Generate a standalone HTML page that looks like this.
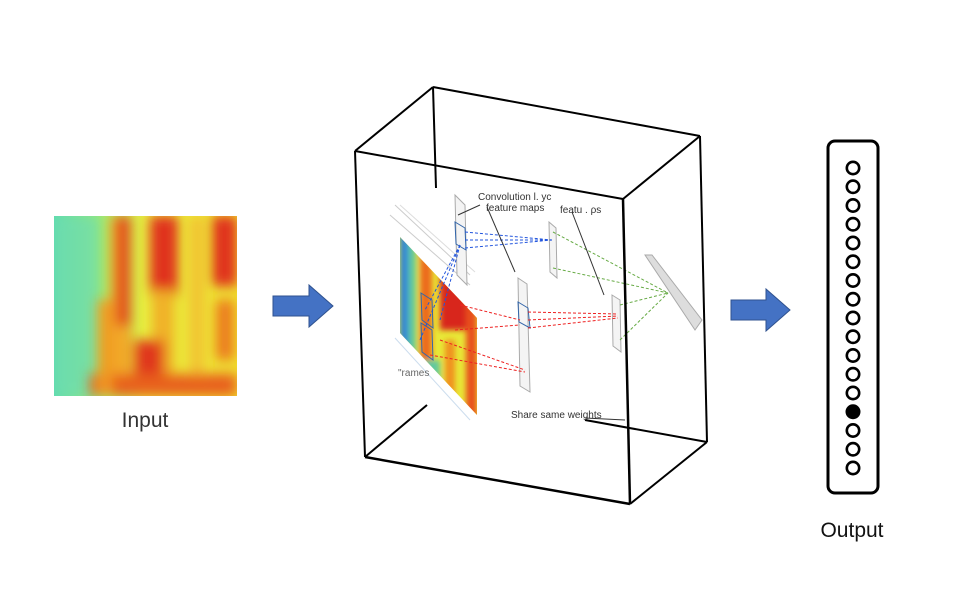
<!DOCTYPE html>
<html><head><meta charset="utf-8"><style>
html,body{margin:0;padding:0;background:#fff;width:975px;height:593px;overflow:hidden}
svg{display:block}
text{font-family:"Liberation Sans",sans-serif}
</style></head><body>
<svg width="975" height="593" viewBox="0 0 975 593">
<defs>
<linearGradient id="bg" x1="0" y1="0" x2="1" y2="0">
<stop offset="0" stop-color="#5fdcb0"/><stop offset="0.3" stop-color="#a8ec6a"/><stop offset="0.5" stop-color="#e8f040"/><stop offset="1" stop-color="#f0e030"/>
</linearGradient>
<filter id="bl" x="-30%" y="-30%" width="160%" height="160%"><feGaussianBlur stdDeviation="6"/></filter>
<filter id="bl2" x="-30%" y="-30%" width="160%" height="160%"><feGaussianBlur stdDeviation="3"/></filter>
<clipPath id="cp"><rect x="54" y="216" width="183" height="180"/></clipPath>
<clipPath id="cp2"><polygon points="400,237 477,318 477,415 400,333"/></clipPath>
</defs>
<g clip-path="url(#cp)">
<rect x="54" y="216" width="183" height="180" fill="url(#bg)"/>
<rect x="54" y="216" width="45" height="180" fill="#6edcb0" opacity="0.7" filter="url(#bl)"/>
<g filter="url(#bl)">
<rect x="110" y="216" width="22" height="180" fill="#f2a828"/>
<rect x="116" y="216" width="14" height="110" fill="#e2401a"/>
<rect x="150" y="216" width="28" height="80" fill="#e0301a"/>
<rect x="152" y="290" width="22" height="106" fill="#f0b028"/>
<rect x="190" y="216" width="14" height="180" fill="#f2c030"/>
<rect x="212" y="216" width="25" height="70" fill="#e0301a"/>
<rect x="216" y="300" width="18" height="60" fill="#ec7a1a"/>
<rect x="134" y="340" width="30" height="35" fill="#e0381a"/>
<rect x="90" y="374" width="147" height="22" fill="#e8601a"/>
<rect x="98" y="300" width="14" height="96" fill="#f09a20"/>
</g>
</g>
<text x="145" y="427" font-size="21" fill="#333" text-anchor="middle">Input</text>
<g>
<polygon points="273,296 309,296 309,285 333,306 309,327 309,316 273,316" fill="#4472c4" stroke="#2f528f" stroke-width="1"/>
</g>
<g>
<polygon points="731,300 766,300 766,289 790,310 766,331 766,320 731,320" fill="#4472c4" stroke="#2f528f" stroke-width="1"/>
</g>
<g stroke="#000" fill="none">
<line x1="355" y1="151" x2="433" y2="87" stroke-width="2"/>
<line x1="433" y1="87" x2="700" y2="136" stroke-width="2"/>
<line x1="433" y1="87" x2="436" y2="188" stroke-width="2"/>
<line x1="700" y1="136" x2="707" y2="442" stroke-width="2"/>
<line x1="365" y1="457" x2="427" y2="405" stroke-width="2"/>
<line x1="585" y1="420" x2="707" y2="442" stroke-width="2"/>
<g stroke-width="1">
<line x1="390" y1="215" x2="470" y2="285" stroke="#ccc"/>
<line x1="395" y1="205" x2="470" y2="275" stroke="#ccc"/>
<line x1="400" y1="205" x2="475" y2="272" stroke="#ddd"/>
<line x1="395" y1="338" x2="470" y2="420" stroke="#cde"/>
<g clip-path="url(#cp2)" stroke="none">
<rect x="395" y="230" width="90" height="200" fill="#e8e838"/>
<g filter="url(#bl2)">
<rect x="400" y="230" width="8" height="200" fill="#2a80d8"/>
<rect x="408" y="230" width="8" height="200" fill="#60c8a0"/>
<rect x="420" y="240" width="12" height="120" fill="#ec6a1a"/>
<rect x="440" y="260" width="37" height="70" fill="#d8281a"/>
<rect x="466" y="300" width="11" height="120" fill="#e8501a"/>
<rect x="445" y="340" width="10" height="60" fill="#f0901a"/>
<rect x="420" y="360" width="20" height="40" fill="#60c8a0"/>
</g>
</g>
<polygon points="455,195 465,205 467,285 457,275" fill="#f4f4f4" stroke="#aaa"/>
<polygon points="455,222 465,228 466,250 456,244" stroke="#36a" fill="none"/>
<polygon points="549,222 556,228 557,278 550,272" fill="#f4f4f4" stroke="#aaa"/>
<polygon points="518,278 527,284 530,392 520,386" fill="#f4f4f4" stroke="#aaa"/>
<polygon points="518,302 528,308 530,328 519,322" stroke="#36a"/>
<polygon points="612,295 620,300 621,352 613,346" fill="#f4f4f4" stroke="#aaa"/>
<polygon points="645,255 652,255 702,320 695,330" fill="#ddd" stroke="#aaa"/>
<polygon points="421,293 432,300 433,328 422,320" stroke="#36a"/>
<polygon points="421,323 432,330 433,360 422,352" stroke="#36a"/>
<g stroke="#2255dd" stroke-dasharray="3,2"><line x1="465" y1="232" x2="552" y2="240"/><line x1="465" y1="240" x2="552" y2="240"/><line x1="465" y1="248" x2="552" y2="240"/><line x1="460" y1="245" x2="425" y2="310"/><line x1="460" y1="245" x2="440" y2="320"/><line x1="460" y1="245" x2="420" y2="340"/></g>
<g stroke="#ee2222" stroke-dasharray="3,2"><line x1="460" y1="305" x2="520" y2="320"/><line x1="455" y1="330" x2="520" y2="325"/><line x1="440" y1="340" x2="525" y2="370"/><line x1="430" y1="355" x2="525" y2="372"/><line x1="528" y1="312" x2="618" y2="314"/><line x1="528" y1="320" x2="618" y2="316"/><line x1="528" y1="328" x2="618" y2="318"/></g>
<g stroke="#66aa44" stroke-dasharray="3,2"><line x1="553" y1="232" x2="668" y2="293"/><line x1="553" y1="268" x2="668" y2="293"/><line x1="620" y1="305" x2="668" y2="293"/><line x1="620" y1="340" x2="668" y2="293"/></g>
<line x1="487" y1="207" x2="515" y2="272" stroke="#333"/>
<line x1="480" y1="205" x2="458" y2="215" stroke="#333"/>
<line x1="572" y1="212" x2="604" y2="295" stroke="#333"/>
<line x1="585" y1="418" x2="625" y2="420" stroke="#333"/>
</g>
<text x="478" y="200" font-size="10" fill="#333" stroke="none" font-family="Liberation Serif">Convolution l. yc</text>
<text x="486" y="211" font-size="10" fill="#333" stroke="none" font-family="Liberation Serif">feature maps</text>
<text x="560" y="213" font-size="10" fill="#333" stroke="none" font-family="Liberation Serif">featu .   ρs</text>
<text x="398" y="376" font-size="10" fill="#666" stroke="none" font-family="Liberation Serif">"rames</text>
<text x="511" y="418" font-size="10" fill="#333" stroke="none" font-family="Liberation Serif">Share same weights</text>
<line x1="355" y1="151" x2="623" y2="199" stroke-width="2"/>
<line x1="355" y1="151" x2="365" y2="457" stroke-width="2"/>
<line x1="365" y1="457" x2="630" y2="504" stroke-width="2.5"/>
<line x1="623" y1="199" x2="630" y2="504" stroke-width="2.5"/>
<line x1="623" y1="199" x2="700" y2="136" stroke-width="2"/>
<line x1="630" y1="504" x2="707" y2="442" stroke-width="2"/>
</g>
<rect x="828" y="141" width="50" height="352" rx="7" fill="#fff" stroke="#000" stroke-width="3"/>
<g id="nodes"></g>
<text x="852" y="537" font-size="21" fill="#111" text-anchor="middle">Output</text>
</svg>
<script>
const nodeStates=[0,0,0,0,0,0,0,0,0,0,0,0,0,1,0,0,0];
const g=document.getElementById('nodes');
nodeStates.forEach((v,i)=>{
const c=document.createElementNS('http://www.w3.org/2000/svg','circle');
c.setAttribute('cx',853);
c.setAttribute('cy',168+i*18.75);
c.setAttribute('r',6.2);
c.setAttribute('fill',v?'#000':'#fff');
c.setAttribute('stroke','#000');
c.setAttribute('stroke-width',2.6);


g.appendChild(c);
});
</script>
</body></html>
